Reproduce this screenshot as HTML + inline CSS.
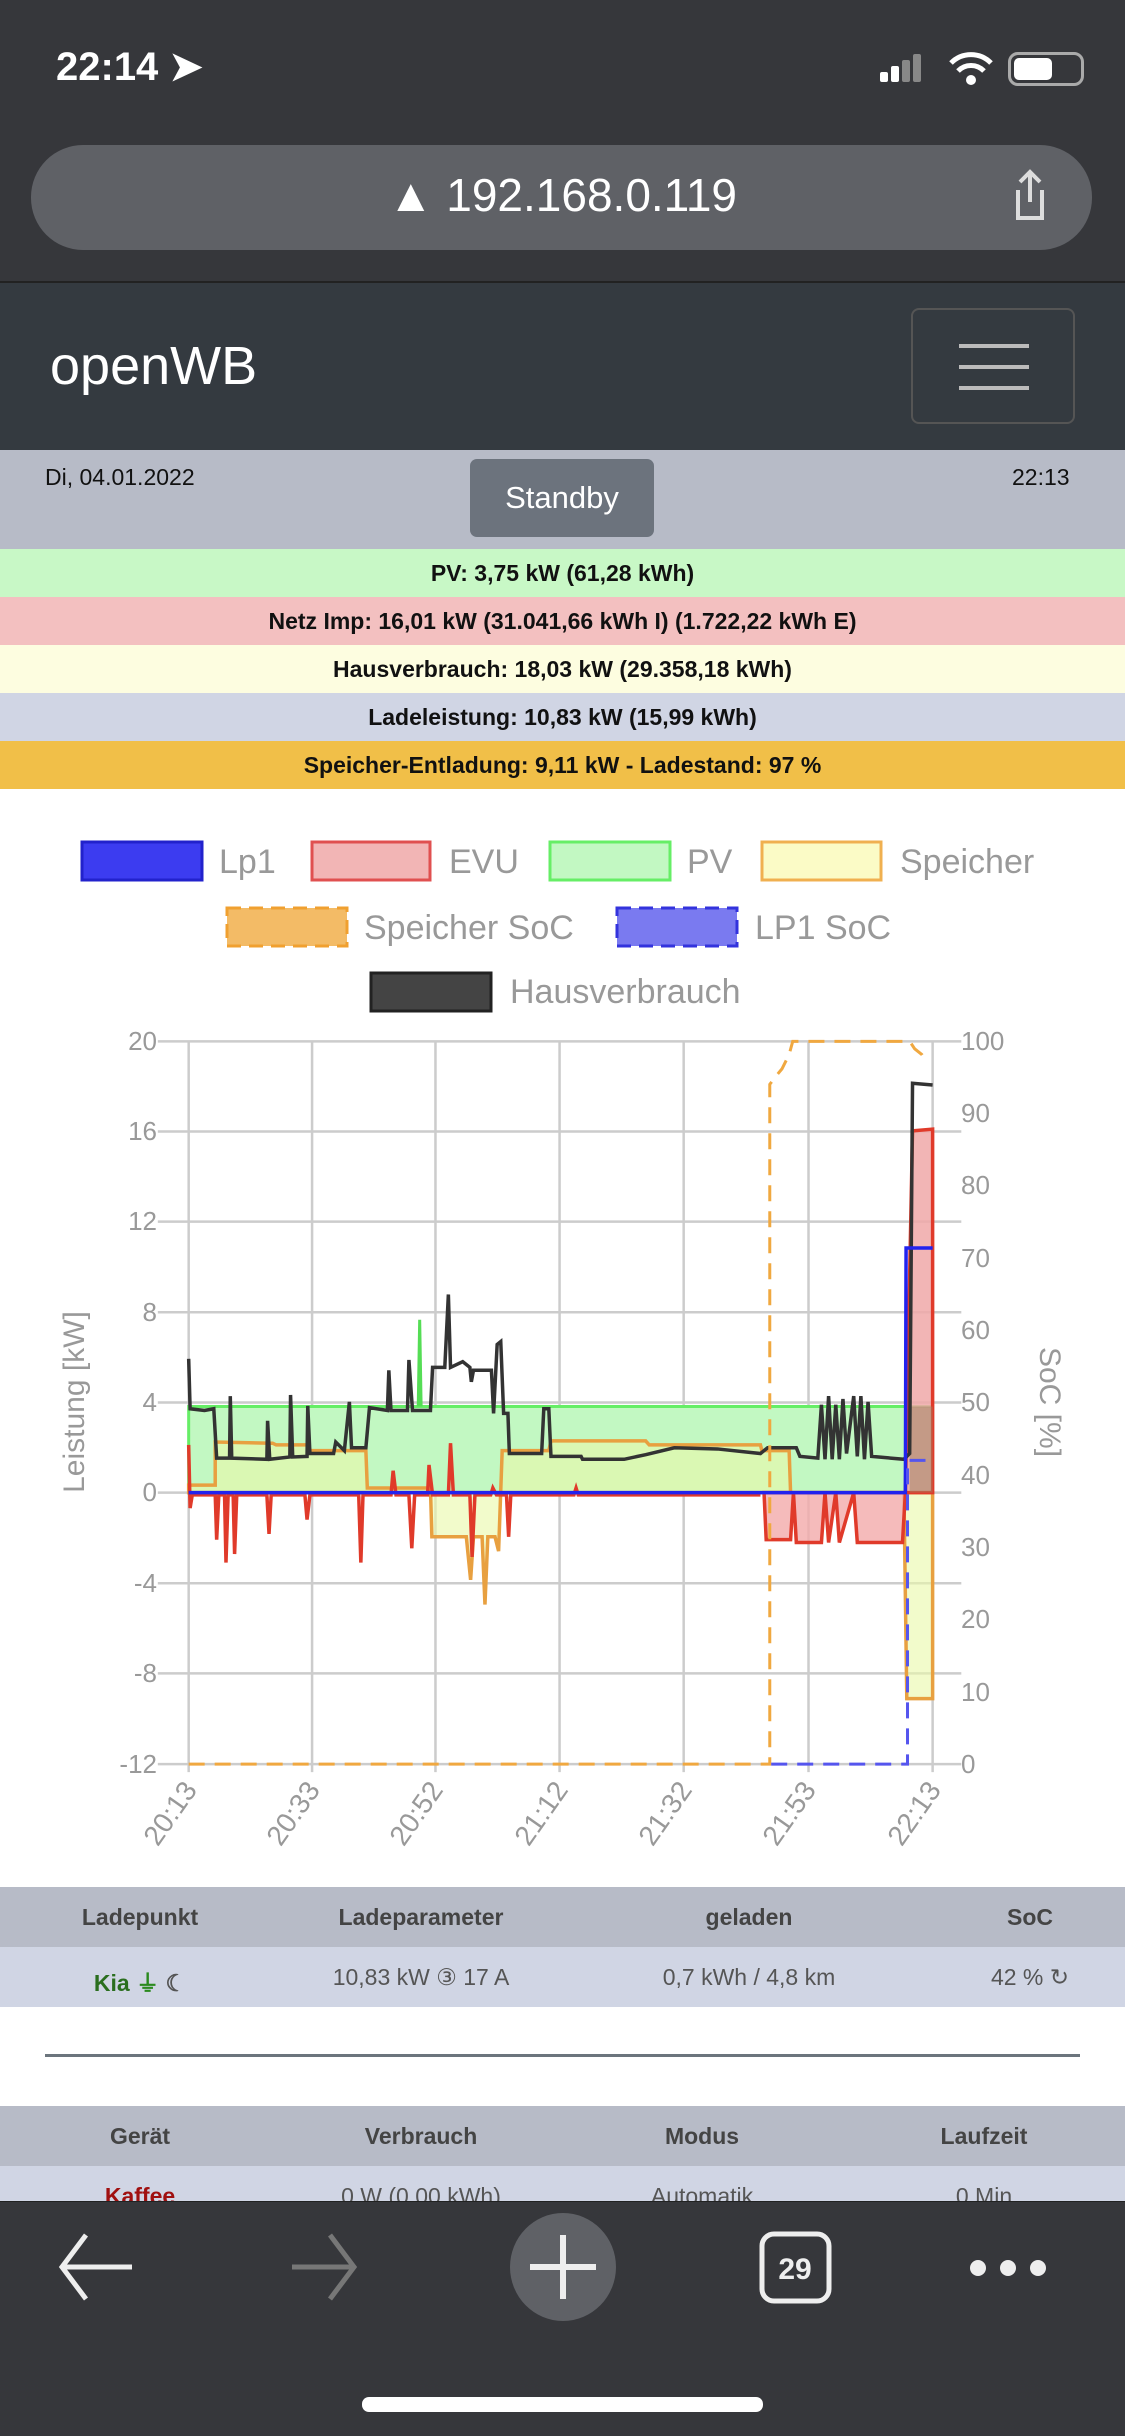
<!DOCTYPE html>
<html><head><meta charset="utf-8"><style>
*{margin:0;padding:0;box-sizing:border-box}
body{width:1125px;height:2436px;overflow:hidden;background:#fff;font-family:"Liberation Sans",sans-serif;position:relative}
.a{position:absolute}
.row{position:absolute;left:0;width:1125px;height:48px;line-height:48px;text-align:center;font-weight:bold;font-size:23px;color:#111}
.th{position:absolute;font-weight:bold;font-size:23px;color:#444;transform:translateX(-50%)}
.td{position:absolute;font-size:23px;color:#555;transform:translateX(-50%)}
</style></head><body>
<div class="a" style="left:0;top:0;width:1125px;height:281px;background:#36373b"></div>
<div class="a" style="left:56px;top:44px;color:#fff;font-size:40px;font-weight:bold">22:14 ➤</div>
<div class="a" style="left:880px;top:52px;width:50px;height:30px">
<div class="a" style="left:0;top:20px;width:8px;height:10px;background:#fff;border-radius:2px"></div>
<div class="a" style="left:11px;top:14px;width:8px;height:16px;background:#fff;border-radius:2px"></div>
<div class="a" style="left:22px;top:8px;width:8px;height:22px;background:#888;border-radius:2px"></div>
<div class="a" style="left:33px;top:2px;width:8px;height:28px;background:#888;border-radius:2px"></div></div>
<svg class="a" style="left:948px;top:50px" width="46" height="36"><path d="M3,13 A28,28 0 0 1 43,13" fill="none" stroke="#fff" stroke-width="5"/><path d="M10,21 A18,18 0 0 1 36,21" fill="none" stroke="#fff" stroke-width="5"/><circle cx="23" cy="30" r="5" fill="#fff"/></svg>
<div class="a" style="left:1008px;top:52px;width:76px;height:34px;border:3px solid #aaa;border-radius:10px"><div class="a" style="left:3px;top:3px;width:38px;height:22px;background:#fff;border-radius:5px"></div></div>
<div class="a" style="left:31px;top:145px;width:1061px;height:105px;background:#5f6166;border-radius:52px"></div>
<div class="a" style="left:0;top:168px;width:1125px;text-align:center;color:#fff;font-size:46px">▲ 192.168.0.119</div>
<svg class="a" style="left:1003px;top:168px" width="46" height="56"><polyline points="15,22 15,50 39,50 39,22" fill="none" stroke="#ddd" stroke-width="4"/><line x1="27" y1="4" x2="27" y2="34" stroke="#ddd" stroke-width="4"/><polyline points="17,14 27,4 37,14" fill="none" stroke="#ddd" stroke-width="4"/></svg>
<div class="a" style="left:0;top:281px;width:1125px;height:170px;background:#343a40;border-top:2px solid #222"></div>
<div class="a" style="left:50px;top:335px;color:#fff;font-size:54px">openWB</div>
<div class="a" style="left:911px;top:308px;width:164px;height:116px;border:2px solid #555;border-radius:8px">
<div class="a" style="left:46px;top:34px;width:70px;height:4px;background:#bbb"></div>
<div class="a" style="left:46px;top:55px;width:70px;height:4px;background:#bbb"></div>
<div class="a" style="left:46px;top:76px;width:70px;height:4px;background:#bbb"></div></div>
<div class="a" style="left:0;top:450px;width:1125px;height:99px;background:#b7bbc7"></div>
<div class="a" style="left:45px;top:464px;font-size:23px;color:#111">Di, 04.01.2022</div>
<div class="a" style="left:1012px;top:464px;font-size:23px;color:#111">22:13</div>
<div class="a" style="left:470px;top:459px;width:184px;height:78px;background:#6c737d;border-radius:7px;color:#fff;font-size:31px;text-align:center;line-height:78px">Standby</div>
<div class="row" style="top:549px;background:#c8f8c6">PV: 3,75 kW (61,28 kWh)</div>
<div class="row" style="top:597px;background:#f3c0c0">Netz Imp: 16,01 kW (31.041,66 kWh I) (1.722,22 kWh E)</div>
<div class="row" style="top:645px;background:#fdfde0">Hausverbrauch: 18,03 kW (29.358,18 kWh)</div>
<div class="row" style="top:693px;background:#d0d5e4">Ladeleistung: 10,83 kW (15,99 kWh)</div>
<div class="row" style="top:741px;background:#f1bf48">Speicher-Entladung: 9,11 kW - Ladestand: 97 %</div>

<svg class="a" style="left:0;top:0" width="1125" height="2436" font-family="Liberation Sans, sans-serif">
<g font-size="34" fill="#999">
<rect x="82" y="842" width="120" height="38" fill="#3c3cf0" stroke="#2222cc" stroke-width="3"/><text x="219" y="873">Lp1</text>
<rect x="312" y="842" width="118" height="38" fill="#f2b5b5" stroke="#e05050" stroke-width="3"/><text x="449" y="873">EVU</text>
<rect x="550" y="842" width="120" height="38" fill="#c2f8c2" stroke="#66ee66" stroke-width="3"/><text x="687" y="873">PV</text>
<rect x="762" y="842" width="119" height="38" fill="#fbfbc6" stroke="#f0b050" stroke-width="3"/><text x="900" y="873">Speicher</text>
<rect x="227" y="908" width="120" height="38" fill="#f3bb66" stroke="#f0a030" stroke-width="3" stroke-dasharray="14,8"/><text x="364" y="939">Speicher SoC</text>
<rect x="617" y="908" width="120" height="38" fill="#7a7af0" stroke="#3333dd" stroke-width="3" stroke-dasharray="14,8"/><text x="755" y="939">LP1 SoC</text>
<rect x="371" y="973" width="120" height="38" fill="#444" stroke="#222" stroke-width="3"/><text x="510" y="1003">Hausverbrauch</text>
</g>
<g transform="translate(0,1000) scale(0.7174,0.5741)">
<g stroke="#ccc" stroke-width="2.5">
<line x1="220" y1="72" x2="1340" y2="72" vector-effect="non-scaling-stroke"/>
<line x1="220" y1="229" x2="1340" y2="229" vector-effect="non-scaling-stroke"/>
<line x1="220" y1="386" x2="1340" y2="386" vector-effect="non-scaling-stroke"/>
<line x1="220" y1="544" x2="1340" y2="544" vector-effect="non-scaling-stroke"/>
<line x1="220" y1="701" x2="1340" y2="701" vector-effect="non-scaling-stroke"/>
<line x1="220" y1="858" x2="1340" y2="858" vector-effect="non-scaling-stroke"/>
<line x1="220" y1="1016" x2="1340" y2="1016" vector-effect="non-scaling-stroke"/>
<line x1="220" y1="1173" x2="1340" y2="1173" vector-effect="non-scaling-stroke"/>
<line x1="220" y1="1331" x2="1340" y2="1331" vector-effect="non-scaling-stroke"/>
<line x1="263" y1="72" x2="263" y2="1345" vector-effect="non-scaling-stroke"/>
<line x1="435" y1="72" x2="435" y2="1345" vector-effect="non-scaling-stroke"/>
<line x1="607" y1="72" x2="607" y2="1345" vector-effect="non-scaling-stroke"/>
<line x1="780" y1="72" x2="780" y2="1345" vector-effect="non-scaling-stroke"/>
<line x1="953" y1="72" x2="953" y2="1345" vector-effect="non-scaling-stroke"/>
<line x1="1127" y1="72" x2="1127" y2="1345" vector-effect="non-scaling-stroke"/>
<line x1="1300" y1="72" x2="1300" y2="1345" vector-effect="non-scaling-stroke"/>
</g>
<polygon points="263,858 263,708 1300,708 1300,858" fill="#c2f8c2" stroke="#66ee66" stroke-width="3" vector-effect="non-scaling-stroke"/>
<polyline points="583,708 585,557 587,708" fill="none" stroke="#55dd55" stroke-width="3" vector-effect="non-scaling-stroke"/>
<polygon points="263,858 263,845 300,845 300,770 380,772 385,775 430,775 432,785 510,785 512,850 600,850 602,935 650,935 656,1010 660,935 672,935 676,1053 680,935 690,935 695,960 700,785 765,785 768,768 900,768 905,775 1060,775 1062,785 1100,785 1102,858 1260,858 1264,1217 1300,1217 1300,858" fill="#e9f9a8" fill-opacity="0.6" stroke="#e8a040" stroke-width="3.5" vector-effect="non-scaling-stroke"/>
<polygon points="1065,858 1068,940 1102,940 1106,858 1110,945 1145,945 1150,858 1155,945 1165,858 1170,945 1190,858 1195,945 1258,945 1262,858" fill="#f2aaaa" fill-opacity="0.8" stroke="#e03a2a" stroke-width="3.5" vector-effect="non-scaling-stroke"/>
<polygon points="1262,858 1272,228 1300,225 1300,858" fill="#f0a8a8" fill-opacity="0.85" stroke="#e03a2a" stroke-width="3.5" vector-effect="non-scaling-stroke"/>
<rect x="1268" y="708" width="32" height="150" fill="#a08060" opacity="0.5"/>
<polyline points="263,775 265,885 268,862 300,862 302,940 305,862 313,862 315,980 318,862 325,862 327,965 330,862 372,862 375,930 378,862 425,862 428,905 432,862 500,862 503,980 506,862 545,862 548,820 552,862 570,862 574,955 578,862 596,862 598,810 603,862 625,862 628,772 632,862 655,862 658,970 662,862 684,862 687,850 692,862 706,862 709,935 712,862 800,862 803,850 806,862 960,862 1060,862" fill="none" stroke="#e03a2a" stroke-width="3.5" vector-effect="non-scaling-stroke"/>
<polyline points="263,625 265,712 285,715 298,712 302,798 320,798 321,690 323,798 372,800 373,733 376,800 404,796 405,688 408,796 428,795 429,707 432,790 465,790 468,770 480,785 487,700 490,780 510,780 515,710 540,715 542,645 545,715 568,715 570,627 575,715 600,715 603,640 620,640 625,513 628,640 645,630 655,640 657,665 660,645 685,645 688,720 693,600 698,595 702,720 708,720 710,790 755,790 758,712 765,712 768,795 810,795 812,800 870,800 900,792 940,780 1000,782 1060,790 1070,780 1110,780 1115,795 1140,798 1145,705 1150,800 1155,690 1160,800 1165,705 1170,800 1175,695 1180,790 1190,690 1195,795 1200,690 1205,800 1210,700 1215,795 1260,800 1268,790 1272,145 1300,148" fill="none" stroke="#333" stroke-width="3.5" vector-effect="non-scaling-stroke"/>
<polyline points="263,858 1262,858 1263,432 1300,432" fill="none" stroke="#2222ee" stroke-width="3.5" vector-effect="non-scaling-stroke"/>
<polyline points="263,1331 1073,1331 1073,147 1080,135 1090,120 1100,95 1105,72 1268,72 1275,85 1285,95 1290,105" fill="none" stroke="#f0a840" stroke-width="3" stroke-dasharray="16,10" vector-effect="non-scaling-stroke"/>
<polyline points="1075,1331 1265,1331 1265,802 1300,802" fill="none" stroke="#5555ee" stroke-width="3" stroke-dasharray="16,10" vector-effect="non-scaling-stroke"/>
</g>
<g font-size="26" fill="#999" text-anchor="end">
<text x="157" y="1050">20</text><text x="157" y="1140">16</text><text x="157" y="1230">12</text><text x="157" y="1321">8</text><text x="157" y="1411">4</text><text x="157" y="1501">0</text><text x="157" y="1592">-4</text><text x="157" y="1682">-8</text><text x="157" y="1773">-12</text>
</g>
<g font-size="26" fill="#999">
<text x="961" y="1050">100</text><text x="961" y="1122">90</text><text x="961" y="1194">80</text><text x="961" y="1267">70</text><text x="961" y="1339">60</text><text x="961" y="1411">50</text><text x="961" y="1484">40</text><text x="961" y="1556">30</text><text x="961" y="1628">20</text><text x="961" y="1701">10</text><text x="961" y="1773">0</text>
</g>
<text x="0" y="0" font-size="30" fill="#999" text-anchor="middle" transform="translate(84,1402) rotate(-90)">Leistung [kW]</text>
<text x="0" y="0" font-size="30" fill="#999" text-anchor="middle" transform="translate(1040,1402) rotate(90)">SoC [%]</text>
<g font-size="28" fill="#999" text-anchor="end">
<text transform="translate(198,1790) rotate(-55)">20:13</text>
<text transform="translate(321,1790) rotate(-55)">20:33</text>
<text transform="translate(444,1790) rotate(-55)">20:52</text>
<text transform="translate(569,1790) rotate(-55)">21:12</text>
<text transform="translate(693,1790) rotate(-55)">21:32</text>
<text transform="translate(817,1790) rotate(-55)">21:53</text>
<text transform="translate(942,1790) rotate(-55)">22:13</text>
</g>
</svg>

<div class="a" style="left:0;top:1887px;width:1125px;height:60px;background:#b7bbc7"></div>
<div class="a" style="left:0;top:1947px;width:1125px;height:60px;background:#d0d5e4"></div>
<div class="th" style="left:140px;top:1904px">Ladepunkt</div>
<div class="th" style="left:421px;top:1904px">Ladeparameter</div>
<div class="th" style="left:749px;top:1904px">geladen</div>
<div class="th" style="left:1030px;top:1904px">SoC</div>
<div class="td" style="left:140px;top:1964px;color:#2a6e1e;font-weight:bold">Kia <span style="color:#2a8a1e">⏚</span> <span style="color:#555">☾</span></div>
<div class="td" style="left:421px;top:1964px">10,83 kW ③ 17 A</div>
<div class="td" style="left:749px;top:1964px">0,7 kWh / 4,8 km</div>
<div class="td" style="left:1030px;top:1964px">42 % ↻</div>
<div class="a" style="left:45px;top:2054px;width:1035px;height:3px;background:#6c757d"></div>
<div class="a" style="left:0;top:2106px;width:1125px;height:60px;background:#b7bbc7"></div>
<div class="a" style="left:0;top:2166px;width:1125px;height:40px;background:#d0d5e4"></div>
<div class="th" style="left:140px;top:2123px">Gerät</div>
<div class="th" style="left:421px;top:2123px">Verbrauch</div>
<div class="th" style="left:702px;top:2123px">Modus</div>
<div class="th" style="left:984px;top:2123px">Laufzeit</div>
<div class="td" style="left:140px;top:2183px;color:#a01010;font-weight:bold">Kaffee</div>
<div class="td" style="left:421px;top:2183px">0 W (0,00 kWh)</div>
<div class="td" style="left:702px;top:2183px">Automatik</div>
<div class="td" style="left:984px;top:2183px">0 Min</div>

<div class="a" style="left:0;top:2201px;width:1125px;height:235px;background:#36373b;border-top:1px solid #222"></div>
<svg class="a" style="left:0;top:2201px" width="1125" height="235">
<polyline points="86,34 62,66 86,98" fill="none" stroke="#eee" stroke-width="5"/><line x1="62" y1="66" x2="132" y2="66" stroke="#eee" stroke-width="5"/>
<polyline points="330,34 354,66 330,98" fill="none" stroke="#777" stroke-width="5"/><line x1="292" y1="66" x2="354" y2="66" stroke="#777" stroke-width="5"/>
<ellipse cx="563" cy="66" rx="53" ry="54" fill="#5f6166"/>
<line x1="563" y1="34" x2="563" y2="98" stroke="#eee" stroke-width="6"/><line x1="530" y1="66" x2="596" y2="66" stroke="#eee" stroke-width="6"/>
<rect x="762" y="33" width="67" height="67" rx="12" fill="none" stroke="#eee" stroke-width="5"/>
<text x="795" y="78" font-size="30" fill="#eee" text-anchor="middle" font-weight="bold">29</text>
<circle cx="978" cy="67" r="8" fill="#eee"/><circle cx="1008" cy="67" r="8" fill="#eee"/><circle cx="1038" cy="67" r="8" fill="#eee"/>
<rect x="362" y="196" width="401" height="15" rx="7" fill="#fff"/>
</svg>
</body></html>
